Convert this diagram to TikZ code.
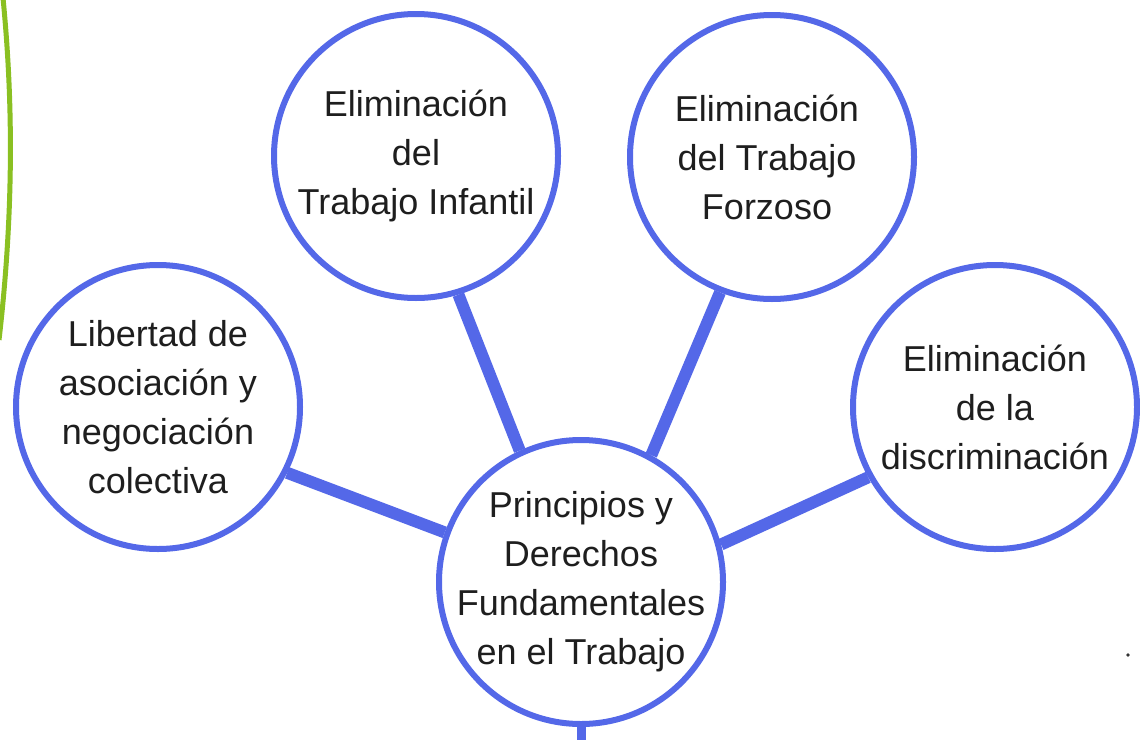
\documentclass[tikz,border=0pt]{standalone}
\usepackage{fontspec}
\setmainfont{Liberation Sans}
\usetikzlibrary{backgrounds}
\definecolor{ringblue}{RGB}{84,104,232}
\definecolor{limegreen}{RGB}{138,192,34}
\definecolor{txt}{RGB}{30,30,30}
\begin{document}
\begin{tikzpicture}[x=1pt,y=-1pt,
  bubble/.style={circle,draw=ringblue,line width=6pt,fill=white,minimum size=284pt,inner sep=0pt},
  bubbletext/.style={label={[align=center,text=txt,font=\fontsize{36}{49}\selectfont,inner sep=0pt]center:#1}},
  spoke/.style={draw=ringblue,line width=12pt}]
\useasboundingbox (0,0) rectangle (1140,739);
% green accent curve
\draw[limegreen,line width=5pt] (3,-2) .. controls (13,100) and (14,210) .. (-1,340);
% bubbles
\node[bubble,bubbletext={Principios y\\Derechos\\Fundamentales\\en el Trabajo}] (c) at (581,582) {};
\node[bubble,bubbletext={Libertad de\\asociación y\\negociación\\colectiva}] (l) at (158,407) {};
\node[bubble,bubbletext={Eliminación\\del\\Trabajo Infantil}] (tl) at (416,156) {};
\node[bubble,label={[align=center,text=txt,font=\fontsize{36}{49}\selectfont,inner sep=0pt,xshift=-5pt]center:Eliminación\\del Trabajo\\ Forzoso}] (tr) at (772,157) {};
\node[bubble,bubbletext={Eliminación\\de la\\discriminación}] (r) at (995,407) {};
\coordinate (bot) at (581,745);
% spokes behind the bubbles
\begin{scope}[on background layer]
\fill[white] (0,0) rectangle (1140,739);
\draw[spoke] (c.160) -- (l.333);
\draw[spoke] (c.115) -- (tl.287);
\draw[spoke] (c.61) -- (tr.249);
\draw[spoke] (c.15) -- (r.209);
\draw[draw=ringblue,line width=9pt] (c.south) -- (bot);
\end{scope}
% small dot
\fill[black!80] (1128,655) circle (1.8);
\end{tikzpicture}
\end{document}
